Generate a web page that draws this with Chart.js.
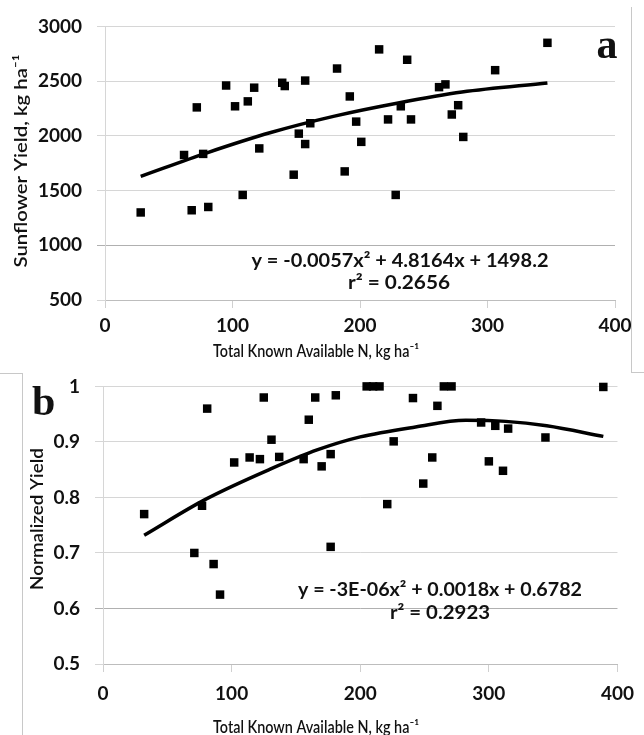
<!DOCTYPE html>
<html>
<head>
<meta charset="utf-8">
<script src="https://cdn.jsdelivr.net/npm/chart.js@4.4.1/dist/chart.umd.min.js"></script>
<style>
body { margin: 0; background: #fff; }
#wrap { position: relative; width: 644px; height: 735px; overflow: hidden; background: #fff; }
#wrap canvas { position: absolute; left: 0; }
#chart_a { top: 0; }
#chart_b { top: 360px; }
.frame { position: absolute; background: #c8c8c8; }
</style>
</head>
<body>
<div id="wrap">
    <canvas id="chart_a" width="644" height="360"></canvas>
    <canvas id="chart_b" width="644" height="375"></canvas>
    <!-- 切り取られた枠線 -->
    <div class="frame" style="left:631px;top:7px;width:1px;height:366px"></div>
    <div class="frame" style="left:631px;top:372px;width:13px;height:1px"></div>
    <div class="frame" style="left:0;top:373px;width:22px;height:1px"></div>
    <div class="frame" style="left:22px;top:373px;width:1px;height:362px"></div>
</div>
<script>
// panel a : measured points
const a_n = [28, 62, 68, 72, 77, 81, 95, 102, 108, 112, 117, 121, 139, 141, 148, 152, 157, 157, 161,
             182, 188, 192, 197, 201, 215, 222, 228, 232, 237, 240, 262, 267, 272, 277, 281, 306, 347];
const a_yield = [1300, 1825, 1320, 2260, 1835, 1350, 2460, 2270, 1460, 2315, 2440, 1885, 2485, 2455, 1645, 2020, 2505, 1925, 2115,
                 2615, 1675, 2360, 2130, 1945, 2790, 2150, 1460, 2270, 2695, 2150, 2445, 2470, 2195, 2280, 1990, 2600, 2850];
// panel a : trend line
const a_trend_n = [28, 80, 130, 180, 230, 280, 347];
const a_trend_yield = [1630, 1845, 2030, 2180, 2300, 2400, 2483];
// panel a : ticks
const a_y_ticks = [500, 1000, 1500, 2000, 2500, 3000];

// panel b : measured points
const b_n = [32, 71, 77, 81, 86, 91, 102, 114, 122, 125, 131, 137, 156, 160, 165, 170, 177, 177, 181,
             205, 210, 215, 221, 226, 241, 249, 256, 260, 265, 271, 294, 300, 305, 311, 315, 344, 389];
const b_yield = [0.770, 0.700, 0.785, 0.960, 0.680, 0.625, 0.863, 0.872, 0.869, 0.980, 0.904, 0.873, 0.869, 0.940, 0.980, 0.856, 0.878, 0.711, 0.984,
                 1.000, 1.000, 1.000, 0.788, 0.901, 0.979, 0.825, 0.872, 0.965, 1.000, 1.000, 0.935, 0.865, 0.929, 0.848, 0.924, 0.908, 0.999];
// panel b : trend line
const b_trend_n = [32, 80, 130, 167, 200, 243, 282, 313, 345, 389];
const b_trend_yield = [0.732, 0.797, 0.851, 0.886, 0.909, 0.927, 0.939, 0.937, 0.929, 0.910];
// panel b : ticks
const b_y_ticks = [0.5, 0.6, 0.7, 0.8, 0.9, 1];

// shared x ticks
const x_ticks = [0, 100, 200, 300, 400];

// 文字色とフォント
const text_color = '#111';
const tick_font = { family: 'Lato', size: 19, weight: 'bold' };

// 2つの配列から {x, y} を作る
function to_points(xs, ys){
    let points = [];
    xs.forEach(function(x, index){
        points.push({ x: x, y: ys[index] });
    });
    return points;
}

// 幅を合わせて文字を描く
function draw_fit_text(ctx, item){
    ctx.save();
    ctx.font = item.font;
    ctx.fillStyle = text_color;
    ctx.textAlign = item.align || 'center';
    ctx.textBaseline = item.baseline || 'middle';
    ctx.translate(item.x, item.y);
    if(item.rotate){
        ctx.rotate(-Math.PI / 2);
    }
    if(item.width){
        const measured = ctx.measureText(item.text).width;
        ctx.scale(item.width / measured, 1);
    }
    ctx.fillText(item.text, 0, 0);
    ctx.restore();
}

// 軸タイトル・回帰式・パネル記号を描くプラグイン
const panel_text_plugin = {
    id: 'panel_text',
    afterDraw: function(chart, args, options){
        (options.items || []).forEach(function(item){
            draw_fit_text(chart.ctx, item);
        });
    }
};

// グラフを作成
function create_chart(canvas_id, cfg){
    const ctx = document.getElementById(canvas_id).getContext('2d');
    return new Chart(ctx, {
        type: 'scatter',
        data: {
            datasets: [
                {
                    label: 'trend',
                    data: to_points(cfg.trend_x, cfg.trend_y),
                    showLine: true,
                    borderColor: '#000',
                    borderWidth: 3.5,
                    pointRadius: 0,
                    cubicInterpolationMode: 'monotone',
                    fill: false,
                    clip: false
                },
                {
                    label: 'observed',
                    data: to_points(cfg.point_x, cfg.point_y),
                    pointStyle: 'rect',
                    pointRadius: 6,
                    borderWidth: 0,
                    backgroundColor: '#000',
                    clip: false
                }
            ]
        },
        options: {
            responsive: false,
            animation: false,
            layout: { padding: cfg.padding },
            scales: {
                x: {
                    type: 'linear',
                    min: 0,
                    max: 400,
                    afterBuildTicks: function(scale){
                        scale.ticks = x_ticks.map(function(v){ return { value: v }; });
                    },
                    afterFit: function(scale){ scale.height = cfg.x_height; },
                    ticks: { font: tick_font, color: text_color, padding: cfg.x_pad },
                    grid: { drawOnChartArea: false, drawTicks: true, tickLength: 8, color: '#d0d0d0' },
                    border: { color: '#bdbdbd' }
                },
                y: {
                    type: 'linear',
                    min: cfg.y_ticks[0],
                    max: cfg.y_ticks[cfg.y_ticks.length - 1],
                    afterBuildTicks: function(scale){
                        scale.ticks = cfg.y_ticks.map(function(v){ return { value: v }; });
                    },
                    afterFit: function(scale){ scale.width = cfg.y_width; },
                    ticks: {
                        font: tick_font,
                        color: text_color,
                        padding: 15,
                        callback: function(value){ return String(value); }
                    },
                    grid: {
                        tickLength: 8,
                        color: function(c){
                            return c.tick && c.tick.value === cfg.dark_line ? '#b0b0b0' : '#d6d6d6';
                        }
                    },
                    border: { color: '#d6d6d6' }
                }
            },
            plugins: {
                legend: { display: false },
                tooltip: { enabled: false },
                panel_text: { items: cfg.texts }
            }
        },
        plugins: [panel_text_plugin]
    });
}

// 上段 (a)
create_chart('chart_a', {
    point_x: a_n, point_y: a_yield,
    trend_x: a_trend_n, trend_y: a_trend_yield,
    y_ticks: a_y_ticks,
    dark_line: 1000,
    padding: { left: 0, top: 20, right: 29, bottom: 0 },
    y_width: 105, x_height: 60, x_pad: 6,
    texts: [
        { text: 'Sunflower Yield, kg ha\u207B\u00B9', x: 21, y: 161, width: 213, rotate: true, font: '600 18px Lato' },
        { text: 'Total Known Available N, kg ha\u207B\u00B9', x: 316, y: 352, width: 206, font: '600 17px Lato' },
        { text: 'y = -0.0057x\u00B2 + 4.8164x + 1498.2', x: 400, y: 261, width: 297, font: 'bold 19px Lato' },
        { text: 'r\u00B2 = 0.2656', x: 399, y: 283, width: 102, font: 'bold 19px Lato' },
        { text: 'a', x: 607, y: 58, baseline: 'alphabetic', font: 'bold 42px "Liberation Serif"' }
    ]
});

// 下段 (b)
create_chart('chart_b', {
    point_x: b_n, point_y: b_yield,
    trend_x: b_trend_n, trend_y: b_trend_yield,
    y_ticks: b_y_ticks,
    dark_line: 0.6,
    padding: { left: 0, top: 26, right: 18, bottom: 0 },
    y_width: 103, x_height: 71, x_pad: 10,
    texts: [
        { text: 'Normalized Yield', x: 37, y: 159, width: 142, rotate: true, font: '600 18px Lato' },
        { text: 'Total Known Available N, kg ha\u207B\u00B9', x: 316, y: 368, width: 206, font: '600 17px Lato' },
        { text: 'y = -3E-06x\u00B2 + 0.0018x + 0.6782', x: 440, y: 230, width: 284, font: 'bold 19px Lato' },
        { text: 'r\u00B2 = 0.2923', x: 440, y: 253, width: 100, font: 'bold 19px Lato' },
        { text: 'b', x: 32, y: 55, align: 'left', baseline: 'alphabetic', font: 'bold 42px "Liberation Serif"' }
    ]
});
</script>
</body>
</html>
